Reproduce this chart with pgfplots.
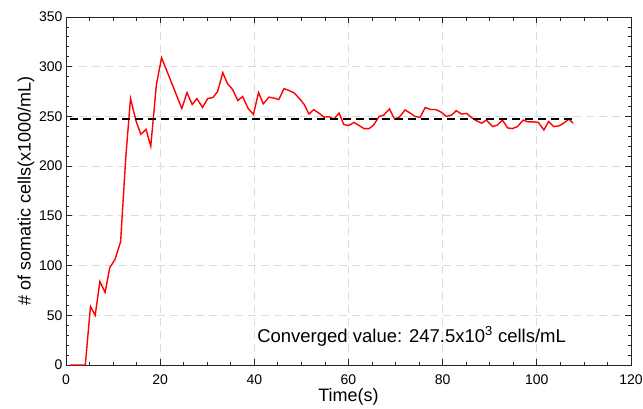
\documentclass[border=0pt]{standalone}
\usepackage{pgfplots}
\pgfplotsset{compat=1.18}
\usepackage{fontspec}
\setmainfont{Liberation Sans}
\definecolor{gridc}{RGB}{220,220,220}
\definecolor{axc}{RGB}{38,38,38}
\begin{document}
\begin{tikzpicture}
\useasboundingbox (-66pt,-43pt) rectangle (577pt,365pt);
\begin{axis}[
  at={(0pt,0pt)}, anchor=south west,
  scale only axis,
  width=565pt, height=348pt,
  xmin=0, xmax=120, ymin=0, ymax=350,
  xtick={0,20,...,120}, ytick={0,50,...,350},
  minor x tick num=3, minor y tick num=4,
  tick pos=both, tick align=inside,
  major tick length=6pt, minor tick length=3.5pt,
  every tick/.style={axc, line width=0.8pt},
  axis line style={axc, line width=0.9pt},
  grid=major,
  major grid style={gridc, line width=0.9pt, dash pattern=on 8pt off 5pt},
  /pgf/number format/assume math mode=true,
  ticklabel style={font=\fontsize{14}{16}\selectfont, text=black},
  xticklabel style={yshift=-6pt},
  xlabel={Time(s)}, ylabel={\# of somatic cells(x1000/mL)},
  label style={font=\fontsize{18}{20}\selectfont},
  xlabel style={yshift=3pt},
  ylabel style={yshift=-2pt},
  clip=false,
]
\addplot[red, line width=1.4pt] coordinates {
(0.9,0)(2,0)(3,0)(4.1,0)(5.2,59)(6.2,50)(7.2,84)(8.3,73)(9.3,98)(10.4,106)
(11.6,124)(12.7,209)(13.7,268)(14.9,245)(15.9,232)(17,237)(18,220)(19.2,282)
(20.3,309)(24.6,258)(25.7,274)(26.8,262)(27.8,268)(29,259)(30.1,268)(31.2,269)
(32.2,275)(33.3,294)(34.3,283)(35.4,277)(36.5,266)(37.5,270)(38.7,258)(39.8,252)
(40.9,274)(41.9,262.6)(43.1,269.4)(44.2,268.4)(45.2,267)(46.3,278)(47.4,276)
(48.4,273.8)(49.5,268.4)(50.6,262)(51.6,252.4)(52.6,256.8)(53.7,253.4)(54.8,249.3)
(55.8,249.7)(56.9,247.3)(58,253.4)(59,241.8)(60.1,241)(61.2,244)(62.2,241)
(63.3,237.8)(64.4,237.8)(65.4,241.8)(66.5,250)(67.5,251.4)(68.7,257.5)(69.8,247.3)
(70.8,249.3)(72,256.5)(73.1,253.4)(74.1,250)(75.2,249)(76.3,259)(77.4,257)
(78.5,257)(79.6,254.5)(80.8,250)(81.9,251.4)(82.9,255.8)(84,252.4)(85.1,253)
(86.1,249)(87.2,245.6)(88.3,243.2)(89.3,246.3)(90.6,239.8)(91.6,241.2)(92.7,246.3)
(93.8,238.4)(94.8,237.8)(95.9,239.8)(97.1,246.3)(98.1,244.6)(99.2,244.6)(100.3,244)
(101.5,236.4)(102.5,244.9)(103.6,239.8)(104.7,240.5)(105.7,243.2)(106.8,247.3)
(107.7,243.2)
};
\addplot[black, line width=2.4pt, dash pattern=on 8pt off 5pt] coordinates {(0.9,247.5)(108,247.5)};
\node[font=\fontsize{18.5}{20}\selectfont, anchor=base] at (axis cs:73.4,23) {Converged value: 247.5x10\textsuperscript{3} cells/mL};
\end{axis}
\end{tikzpicture}
\end{document}
